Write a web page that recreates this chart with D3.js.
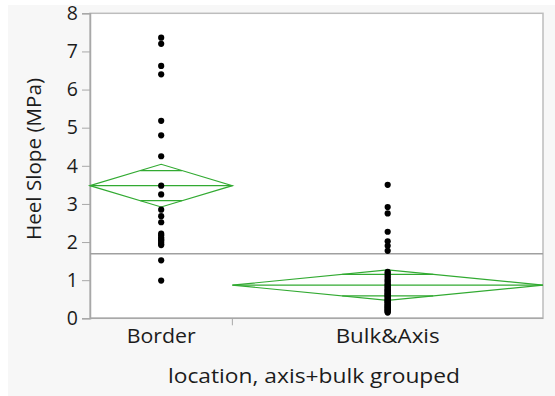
<!DOCTYPE html>
<html>
<head>
<meta charset="utf-8">
<script src="https://cdn.jsdelivr.net/npm/d3@7"></script>
<style>
  html, body { margin: 0; padding: 0; background: #ffffff; }
  svg { display: block; }
  text { font-family: "Open Sans", "Noto Sans", sans-serif; fill: #1c1c1c; }
</style>
</head>
<body>
<svg id="chart" width="555" height="396"></svg>
<script>
// Groups along the x axis
const categories = ["Border", "Bulk&Axis"];

// Heel slope observations (MPa) per group
const borderValues = [7.36, 7.2, 6.62, 6.4, 5.18, 4.8, 4.25, 3.48, 3.25, 2.85, 2.68,
  2.52, 2.22, 2.18, 2.12, 2.08, 2.05, 2.0, 1.95, 1.92, 1.52, 0.99];
const bulkValues = [3.5, 2.92, 2.75, 2.27, 2.02, 1.9, 1.77,
  1.22, 1.18, 1.12, 1.08, 1.02, 0.98, 0.95, 0.9, 0.88, 0.85, 0.82, 0.8, 0.76,
  0.74, 0.72, 0.7, 0.67, 0.65, 0.63, 0.6, 0.58, 0.56, 0.53, 0.5, 0.48, 0.46,
  0.44, 0.42, 0.4, 0.37, 0.35, 0.33, 0.31, 0.29, 0.27, 0.25, 0.23, 0.21, 0.19,
  0.17, 0.15];

// Means diamonds: group mean and 95% CI half-width
const groupMeans = [3.48, 0.87];
const ciHalfWidths = [0.56, 0.40];
const grandMean = 1.69;

// Axis ticks
const yTicks = [0, 1, 2, 3, 4, 5, 6, 7, 8];

const yLabel = "Heel Slope (MPa)";
const xLabel = "location, axis+bulk grouped";

const groups = [borderValues, bulkValues];

const svg = d3.select("#chart");
const W = 555, H = 396;
const plot = { left: 90, right: 543, top: 13.3, bottom: 318.3 };
const FONT = '"Open Sans", "Noto Sans", sans-serif';

// Panel background
svg.append("rect").attr("x", 0).attr("y", 0).attr("width", W).attr("height", H).attr("fill", "#ffffff");
svg.append("rect").attr("x", 8).attr("y", 5).attr("width", W - 8).attr("height", H - 5).attr("fill", "#f7f7f7");
svg.append("rect")
  .attr("x", plot.left).attr("y", plot.top)
  .attr("width", plot.right - plot.left).attr("height", plot.bottom - plot.top)
  .attr("fill", "#ffffff");

const y = d3.scaleLinear().domain([0, 8]).range([plot.bottom, plot.top]);

// Group widths are proportional to the number of observations
const counts = groups.map(g => g.length);
const total = d3.sum(counts);
const edges = [0];
counts.forEach((c, i) => edges.push(edges[i] + c / total));
const x = d3.scaleLinear().domain([0, 1]).range([plot.left, plot.right]);
const bands = categories.map((c, i) => ({
  name: c,
  x0: x(edges[i]),
  x1: x(edges[i + 1]),
  xc: x((edges[i] + edges[i + 1]) / 2)
}));

// Plot frame
svg.append("rect")
  .attr("x", plot.left).attr("y", plot.top)
  .attr("width", plot.right - plot.left).attr("height", plot.bottom - plot.top)
  .attr("fill", "none").attr("stroke", "#bdbdbd").attr("stroke-width", 1.5);

// Y axis
const yAxis = d3.axisLeft(y).tickValues(yTicks).tickSize(8).tickPadding(4).tickFormat(d3.format("d"));
const gy = svg.append("g").attr("transform", `translate(${plot.left},0)`).call(yAxis);
gy.select(".domain").attr("stroke", "#a8a8a8").attr("stroke-width", 1.5);
gy.selectAll(".tick line").attr("stroke", "#a8a8a8");
gy.selectAll(".tick text")
  .style("font-family", FONT)
  .style("font-size", "19.5px").attr("fill", "#1c1c1c");

// X axis: labels centred on groups, tick at the boundary between groups
const catWidths = { "Border": 69, "Bulk&Axis": 104 };
const gx = svg.append("g").attr("transform", `translate(0,${plot.bottom})`);
gx.append("line").attr("x1", plot.left).attr("x2", plot.right)
  .attr("stroke", "#a8a8a8").attr("stroke-width", 1.5);
gx.selectAll("line.div").data(bands.slice(1)).enter().append("line")
  .attr("class", "div")
  .attr("x1", d => d.x0).attr("x2", d => d.x0)
  .attr("y1", 0).attr("y2", 7).attr("stroke", "#a8a8a8");
gx.selectAll("text.cat").data(bands).enter().append("text")
  .attr("class", "cat")
  .attr("x", d => d.xc).attr("y", 25)
  .attr("text-anchor", "middle")
  .attr("textLength", d => catWidths[d.name])
  .attr("lengthAdjust", "spacingAndGlyphs")
  .style("font-size", "20px")
  .text(d => d.name);

// Axis titles
svg.append("text")
  .attr("transform", `translate(41,159) rotate(-90)`)
  .attr("text-anchor", "middle")
  .attr("textLength", 162)
  .attr("lengthAdjust", "spacingAndGlyphs")
  .style("font-size", "20px")
  .text(yLabel);
svg.append("text")
  .attr("x", 314).attr("y", 383)
  .attr("text-anchor", "middle")
  .attr("textLength", 292)
  .attr("lengthAdjust", "spacingAndGlyphs")
  .style("font-size", "20px")
  .text(xLabel);

// Grand mean reference line
svg.append("line")
  .attr("x1", plot.left).attr("x2", plot.right)
  .attr("y1", y(grandMean)).attr("y2", y(grandMean))
  .attr("stroke", "#a0a0a0").attr("stroke-width", 1.5);

// Means diamonds with overlap marks
const green = "#32aa32";
bands.forEach((b, i) => {
  const m = groupMeans[i], h = ciHalfWidths[i];
  const pts = [[b.x0, y(m)], [b.xc, y(m + h)], [b.x1, y(m)], [b.xc, y(m - h)]];
  svg.append("polygon")
    .attr("points", pts.map(p => p.join(",")).join(" "))
    .attr("fill", "none").attr("stroke", green).attr("stroke-width", 1.2);
  svg.append("line")
    .attr("x1", b.x0).attr("x2", b.x1).attr("y1", y(m)).attr("y2", y(m))
    .attr("stroke", green).attr("stroke-width", 1.2);
  const o = h / Math.SQRT2;
  const frac = 1 - o / h;
  const halfW = (b.x1 - b.x0) / 2 * frac;
  [m + o, m - o].forEach(v => {
    svg.append("line")
      .attr("x1", b.xc - halfW).attr("x2", b.xc + halfW)
      .attr("y1", y(v)).attr("y2", y(v))
      .attr("stroke", green).attr("stroke-width", 1.2);
  });
});

// Observations
bands.forEach((b, i) => {
  svg.append("g").selectAll("circle").data(groups[i]).enter().append("circle")
    .attr("cx", b.xc).attr("cy", d => y(d)).attr("r", 3.1).attr("fill", "#000");
});
</script>
</body>
</html>
